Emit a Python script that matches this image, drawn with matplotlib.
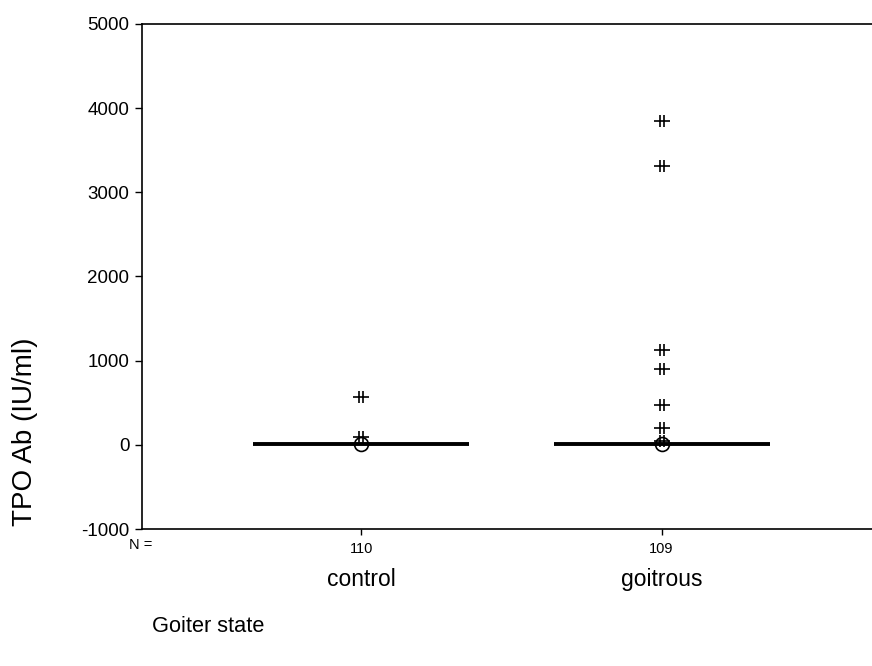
import matplotlib
matplotlib.use("Agg")
import matplotlib.pyplot as plt
from matplotlib.path import Path
import numpy as np

plt.rcParams['font.family'] = ['Liberation Sans', 'DejaVu Sans']

categories = ["control", "goitrous"]
n_counts = [110, 109]
medians = [10, 10]
outliers = [[10], [15]]          # circles (outliers)
extremes = [[570, 90], [3845, 3310, 1130, 895, 478, 202, 40]]  # asterisks (extremes)
yticks = [-1000, 0, 1000, 2000, 3000, 4000, 5000]

# custom "extreme" marker: horizontal bar with two vertical bars
verts = [(-1, 0), (1, 0), (-0.3, -0.75), (-0.3, 0.75), (0.3, -0.75), (0.3, 0.75)]
codes = [Path.MOVETO, Path.LINETO, Path.MOVETO, Path.LINETO, Path.MOVETO, Path.LINETO]
star = Path(verts, codes)

fig = plt.figure(figsize=(8.72, 6.66), dpi=100)
ax = fig.add_axes([0.1628, 0.2057, 0.8372 + 0.01, 0.7583])

pos = np.arange(1, len(categories) + 1)
for p, m in zip(pos, medians):
    ax.hlines(m, p - 0.36, p + 0.36, color='black', linewidth=2.8, zorder=2)
for p, vals in zip(pos, outliers):
    ax.plot([p] * len(vals), vals, linestyle='none', marker='o', markersize=10,
            markerfacecolor='none', markeredgecolor='black', markeredgewidth=1.2, zorder=3)
for p, vals in zip(pos, extremes):
    ax.plot([p] * len(vals), vals, linestyle='none', marker=star, markersize=11,
            color='black', markeredgewidth=1.2, zorder=3)

ax.set_ylim(-1000, 5000)
ax.set_xlim(0.269, 2.73)
ax.set_yticks(yticks)
ax.set_yticklabels([str(v) for v in yticks], fontsize=13.5)
ax.set_xticks(pos)
ax.set_xticklabels([str(n) for n in n_counts], fontsize=10.5)
ax.tick_params(axis='y', direction='out', length=5, width=1, pad=4)
ax.tick_params(axis='x', direction='out', length=4, width=1, pad=5)
ax.spines['right'].set_visible(False)
for s in ['left', 'top', 'bottom']:
    ax.spines[s].set_linewidth(1.2)

for p, c in zip(pos, categories):
    ax.text(p, -0.1, c, transform=ax.get_xaxis_transform(), ha='center', va='center', fontsize=16.5)
ax.text(141 / 872, 1 - 545 / 666, "N =", transform=fig.transFigure, ha='center', va='center', fontsize=10.5)

fig.text(25 / 872, 1 - 432 / 666, "TPO Ab (IU/ml)", rotation=90, ha='center', va='center', fontsize=20)
fig.text(152 / 872, 1 - 627 / 666, "Goiter state", ha='left', va='center', fontsize=15.7)

fig.savefig("out.png", dpi=100)
